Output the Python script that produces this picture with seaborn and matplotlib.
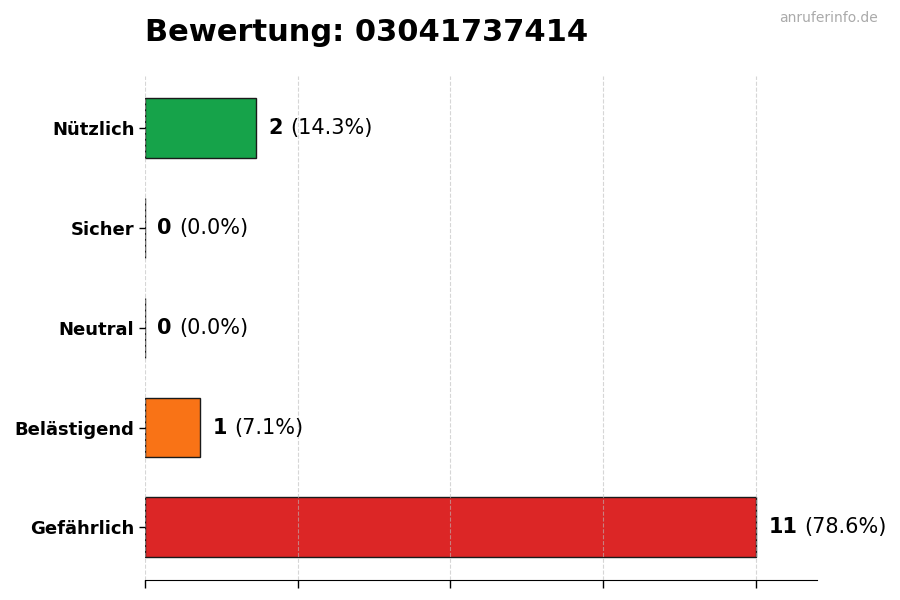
import numpy as np
import matplotlib
matplotlib.use("Agg")
import matplotlib.pyplot as plt
import seaborn as sns

# data
categories = ["Nützlich", "Sicher", "Neutral", "Belästigend", "Gefährlich"]
counts = [2, 0, 0, 1, 11]
colors = ["#16a34a", "#6b7280", "#9ca3af", "#f97316", "#dc2626"]
title = "Bewertung: 03041737414"
watermark = "anruferinfo.de"

total = sum(counts)
sns.set_style("white")
plt.rcParams['font.family'] = ['DejaVu Sans']
plt.rcParams['text.color'] = 'black'
plt.rcParams['axes.labelcolor'] = 'black'
plt.rcParams['xtick.color'] = 'black'
plt.rcParams['ytick.color'] = 'black'

fig = plt.figure(figsize=(9, 6), dpi=100)
ax = fig.add_axes([0.161, 0.033, 0.747, 0.84])

sns.barplot(x=counts, y=categories, hue=categories, palette=colors, legend=False,
            orient="h", width=0.6, saturation=1, edgecolor="#1a1a1a", linewidth=1, ax=ax)

xmax = max(counts) * 1.1
ax.set_xlim(0, xmax)
ax.set_ylim(len(categories) - 1 + 0.53, -0.52)
ax.set_xticks(np.linspace(0, max(counts), 5))
ax.set_xticklabels([])
ax.tick_params(axis="x", length=6, width=1, color="black", bottom=True)
ax.tick_params(axis="y", length=4, width=1, color="black", left=True, labelsize=13)
for lbl in ax.get_yticklabels():
    lbl.set_fontweight("bold")
    lbl.set_color("black")
ax.set_xlabel("")
ax.set_ylabel("")

ax.grid(axis="x", linestyle="--", color="#bbbbbb", alpha=0.6, linewidth=0.8)
ax.set_axisbelow(False)

for s in ["top", "right", "left"]:
    ax.spines[s].set_visible(False)
ax.spines["bottom"].set_color("black")

# value labels
for i, v in enumerate(counts):
    pct = v / total * 100
    t1 = ax.annotate(str(v), xy=(v, i), xytext=(9, 0), textcoords="offset points",
                     va="center", ha="left", fontsize=15, fontweight="bold", color="black")
    ax.annotate(f"({pct:.1f}%)", xy=(1, 0.5), xycoords=t1, xytext=(5, 0),
                textcoords="offset points", va="center", ha="left", fontsize=15, color="black")

ax.set_title(title, loc="left", fontsize=22, fontweight="bold", pad=25, color="black")
fig.text(0.975, 0.97, watermark, ha="right", va="center", fontsize=10, color="#aaaaaa")

fig.savefig("out.png", dpi=100)
